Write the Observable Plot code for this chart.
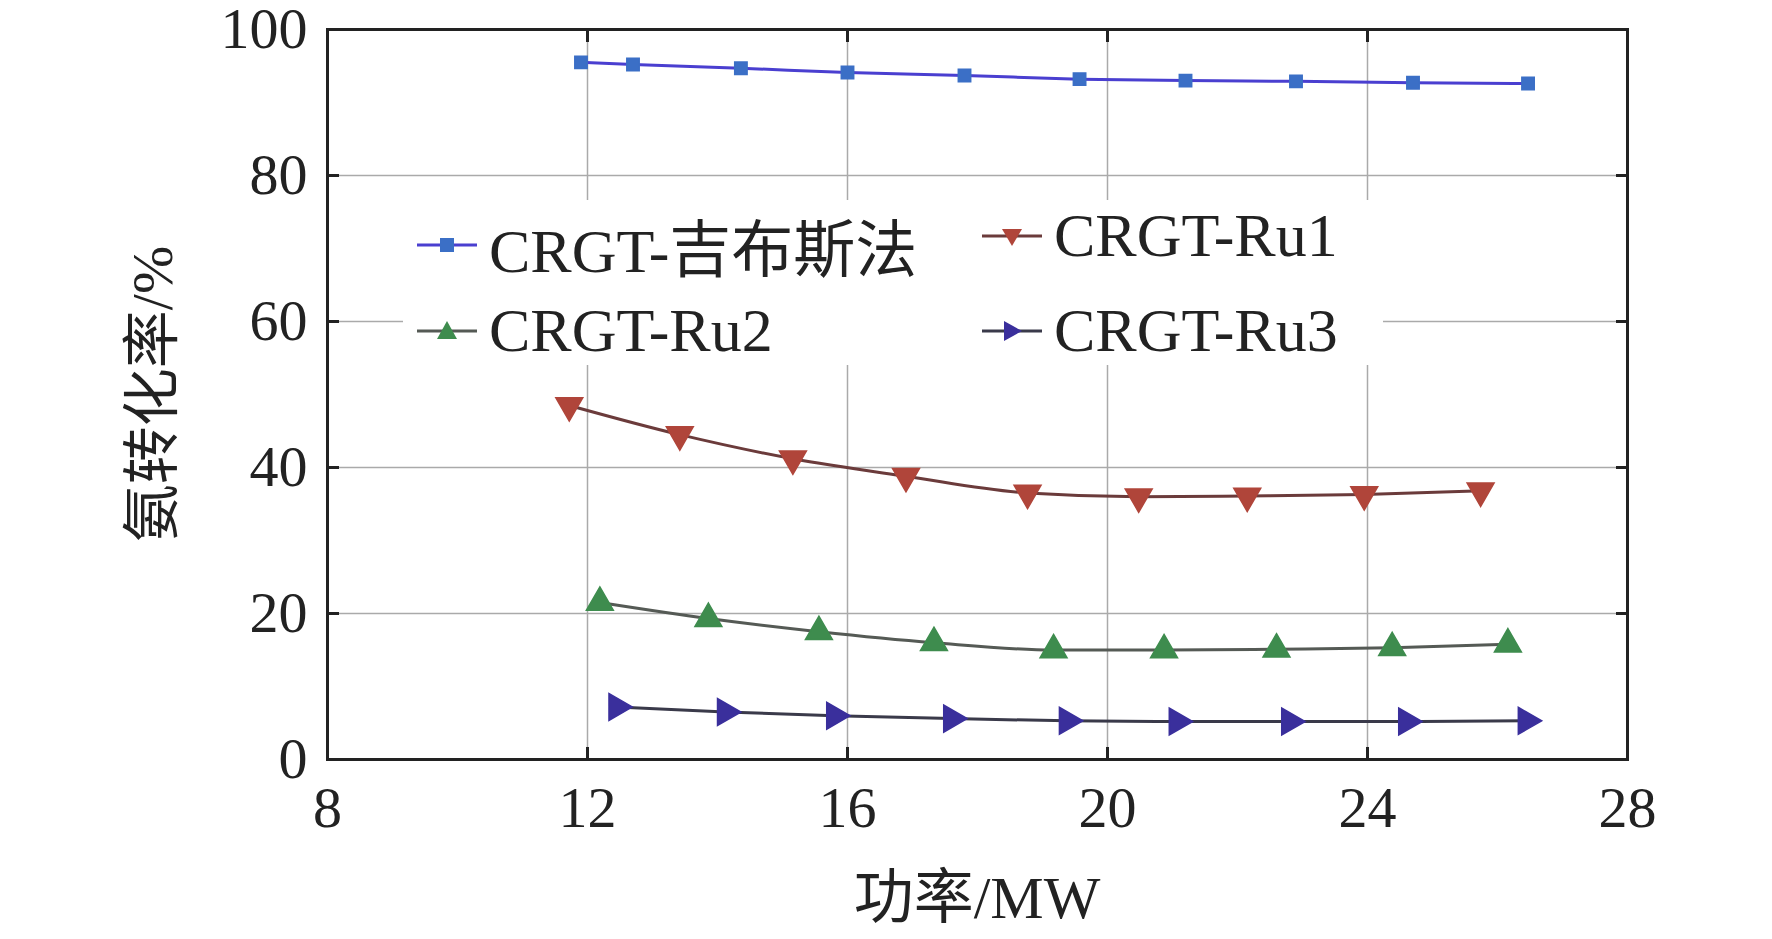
<!DOCTYPE html>
<html><head><meta charset="utf-8">
<script src="https://cdn.jsdelivr.net/npm/d3@7"></script>
<script src="https://cdn.jsdelivr.net/npm/@observablehq/plot@0.6"></script>
<style>
body{margin:0;background:#fff;font-family:"Liberation Serif","Noto Sans CJK SC",serif;}
#wrap{position:relative;width:1772px;height:939px;}
#legend{position:absolute;left:403px;top:200px;width:980px;height:165px;background:#fff;font-size:62px;color:#222;}
.it{position:absolute;display:flex;align-items:center;}
.it svg{margin-right:8px}
</style></head><body>
<div id="wrap"><div id="chart"></div><div id="legend"></div></div>
<script>
const seriesNames=["CRGT-吉布斯法","CRGT-Ru1","CRGT-Ru2","CRGT-Ru3"];
const gibbsX=[11.9,12.7,14.36,16.0,17.8,19.57,21.2,22.9,24.7,26.47];
const gibbsY=[95.5,95.2,94.7,94.1,93.7,93.2,93.0,92.9,92.7,92.6];
const ru1X=[11.72,13.42,15.16,16.9,18.77,20.48,22.15,23.95,25.74];
const ru1Y=[48.5,44.5,41.2,38.8,36.5,36.0,36.1,36.3,36.8];
const ru2X=[12.19,13.86,15.56,17.33,19.17,20.87,22.6,24.38,26.16];
const ru2Y=[21.5,19.3,17.5,16.0,15.0,15.0,15.1,15.3,15.8];
const ru3X=[12.45,14.12,15.8,17.6,19.38,21.07,22.8,24.6,26.44];
const ru3Y=[7.2,6.5,6.0,5.6,5.3,5.2,5.2,5.2,5.3];
const xTicks=[8,12,16,20,24,28];
const yTicks=[0,20,40,60,80,100];
const styles=[
 {line:"#4a3fd0",fill:"#3b6fc6",sym:"square",r:7,rot:0},
 {line:"#6b3b3b",fill:"#b0453a",sym:"triangle",r:10,rot:180},
 {line:"#555a55",fill:"#3e8c4e",sym:"triangle",r:10,rot:0},
 {line:"#3a3a4a",fill:"#3a2f9c",sym:"triangle",r:10,rot:90}];
const xs=[gibbsX,ru1X,ru2X,ru3X], ys=[gibbsY,ru1Y,ru2Y,ru3Y];
const marks=[
 Plot.gridX([12,16,20,24],{stroke:"#aaa",strokeOpacity:1,strokeWidth:1.5}),
 Plot.gridY([20,40,60,80],{stroke:"#aaa",strokeOpacity:1,strokeWidth:1.5}),
 Plot.axisX(xTicks,{tickSize:-12,tickPadding:38,fontSize:58,strokeWidth:3,stroke:"#222",fill:"#222"}),
 Plot.axisX(xTicks,{anchor:"top",tickSize:-12,tickFormat:()=>"",strokeWidth:3,stroke:"#222",label:null}),
 Plot.axisY(yTicks,{tickSize:-12,tickPadding:32,fontSize:58,strokeWidth:3,stroke:"#222",fill:"#222",label:null}),
 Plot.axisY(yTicks,{anchor:"right",tickSize:-12,tickFormat:()=>"",strokeWidth:3,stroke:"#222",label:null}),
];
xs.forEach((X,i)=>{
 const d=X.map((x,j)=>({x,y:ys[i][j]}));
 const s=styles[i];
 marks.push(Plot.line(d,{x:"x",y:"y",curve:"monotone-x",stroke:s.line,strokeWidth:3}));
 marks.push(Plot.dot(d,{x:"x",y:"y",symbol:()=>s.sym,r:s.r,rotate:s.rot,fill:s.fill,stroke:s.fill}));
});
marks.push(Plot.frame({stroke:"#222",strokeWidth:3}));
const chart=Plot.plot({
 width:1772,height:939,marginLeft:327,marginRight:145,marginTop:29,marginBottom:180,
 style:{fontFamily:"Liberation Serif, Noto Sans CJK SC, serif",fontSize:"58px",color:"#222",background:"#fff"},
 x:{domain:[8,28],label:null},
 y:{domain:[0,100],label:null},
 marks
});
document.getElementById("chart").appendChild(chart);
const svg=d3.select(chart);
svg.append("text").attr("x",(327+1627)/2).attr("y",918).attr("text-anchor","middle")
 .attr("font-size",60).attr("fill","#222").text("功率/MW");
svg.append("text").attr("transform","translate(172,394) rotate(-90)").attr("text-anchor","middle")
 .attr("font-size",58).attr("fill","#222").text("氨转化率/%");
const pos=[[0,0],[565,0],[0,95],[565,95]];
const sym={"0":"M-7,-7h14v14h-14z","1":"M-10,-7L10,-7L0,10z","2":"M-10,8L10,8L0,-10z","3":"M-8,-10L10,0L-8,10z"};
const lg=document.getElementById("legend");
seriesNames.forEach((n,i)=>{
 const s=styles[i];
 const div=document.createElement("div");div.className="it";
 div.style.left=pos[i][0]+"px";div.style.top=pos[i][1]+"px";
 div.innerHTML=`<svg width="78" height="66"><line x1="14" x2="74" y1="33" y2="33" stroke="${s.line}" stroke-width="3"/><path transform="translate(44,33)" d="${sym[i]}" fill="${s.fill}"/></svg><span>${n}</span>`;
 lg.appendChild(div);
});
</script></body></html>
